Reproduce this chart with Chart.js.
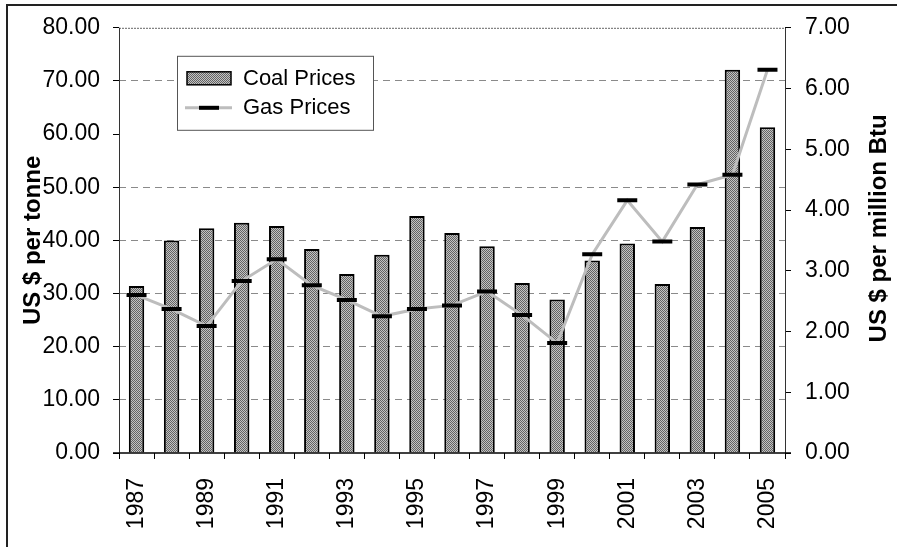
<!DOCTYPE html>
<html>
<head>
<meta charset="utf-8">
<script src="https://cdn.jsdelivr.net/npm/chart.js@4/dist/chart.umd.min.js"></script>
<style>
  html, body { margin: 0; padding: 0; background: #fff; }
  #c { display: block; }
</style>
</head>
<body>
<canvas id="c" width="897" height="547"></canvas>
<script>
const years = ['1987','1988','1989','1990','1991','1992','1993','1994','1995','1996','1997','1998','1999','2000','2001','2002','2003','2004','2005'];
const coalPrices = [31.4, 40.0, 42.3, 43.3, 42.7, 38.4, 33.7, 37.3, 44.6, 41.4, 38.9, 32.0, 28.9, 36.2, 39.4, 31.8, 42.5, 72.1, 61.3];
const gasPrices = [2.60, 2.37, 2.09, 2.83, 3.19, 2.76, 2.52, 2.25, 2.37, 2.43, 2.66, 2.27, 1.81, 3.27, 4.16, 3.48, 4.42, 4.58, 6.31];
const coalLabel = 'Coal Prices';
const gasLabel = 'Gas Prices';
const leftTitle = 'US $ per tonne';
const rightTitle = 'US $ per million Btu';

const FONT = "'Liberation Sans', Arial, sans-serif";

// stippled fill like the scanned original
function makePattern() {
  const p = document.createElement('canvas');
  p.width = 2; p.height = 2;
  const g = p.getContext('2d');
  g.fillStyle = '#c2c2c2'; g.fillRect(0, 0, 2, 2);
  g.fillStyle = '#636363'; g.fillRect(0, 0, 1, 1); g.fillRect(1, 1, 1, 1);
  return g.createPattern(p, 'repeat');
}
const ctx = document.getElementById('c').getContext('2d');
const barFill = makePattern();

const framePlugin = {
  id: 'frame',
  beforeDraw(chart) {
    const c = chart.ctx;
    c.save();
    c.strokeStyle = '#222';
    c.lineWidth = 2;
    c.beginPath();
    c.moveTo(7, 547); c.lineTo(7, 5); c.lineTo(897, 5);
    c.stroke();
    c.restore();
  },
  afterDatasetsDraw(chart) {
    const {left, right, top, bottom} = chart.chartArea;
    const c = chart.ctx;
    c.save();
    c.lineWidth = 1;
    c.strokeStyle = '#666';
    c.setLineDash([2, 1]);
    c.beginPath();
    c.moveTo(left, top + 0.5); c.lineTo(right, top + 0.5);
    c.stroke();
    c.setLineDash([]);
    c.strokeStyle = '#333';
    c.beginPath();
    c.moveTo(left + 0.5, top); c.lineTo(left + 0.5, bottom);
    c.moveTo(right + 0.5, top); c.lineTo(right + 0.5, bottom);
    c.stroke();
    c.strokeStyle = '#000';
    c.lineWidth = 1.5;
    c.beginPath();
    c.moveTo(left - 6, bottom); c.lineTo(right + 6, bottom);
    c.stroke();
    c.restore();
  },
  afterDraw(chart) {
    // right axis title, reading bottom-to-top like the original
    const s = chart.scales.y1;
    const c = chart.ctx;
    c.save();
    c.translate(879, (chart.chartArea.top + chart.chartArea.bottom) / 2 - 12);
    c.rotate(-Math.PI / 2);
    c.font = 'bold 24px ' + FONT;
    c.fillStyle = '#000';
    c.textAlign = 'center';
    c.textBaseline = 'middle';
    c.fillText(s.options.title.text, 0, 0);
    c.restore();
  }
};

const legendPlugin = {
  id: 'boxLegend',
  afterDraw(chart) {
    const {left, top} = chart.chartArea;
    const c = chart.ctx;
    const x = left + 58, y = top + 28, w = 196, h = 74;
    c.save();
    c.fillStyle = '#fff';
    c.fillRect(x, y, w, h);
    c.strokeStyle = '#555';
    c.lineWidth = 1;
    c.strokeRect(x + 0.5, y + 0.5, w, h);
    // coal swatch
    c.fillStyle = barFill;
    c.fillRect(x + 10, y + 16, 44, 13);
    c.strokeStyle = '#000';
    c.lineWidth = 1.5;
    c.strokeRect(x + 10, y + 16, 44, 13);
    // gas sample
    c.strokeStyle = '#bdbdbd';
    c.lineWidth = 3;
    c.beginPath(); c.moveTo(x + 8, y + 52); c.lineTo(x + 55, y + 52); c.stroke();
    c.strokeStyle = '#000';
    c.lineWidth = 4;
    c.beginPath(); c.moveTo(x + 22, y + 52); c.lineTo(x + 42, y + 52); c.stroke();
    // labels
    c.fillStyle = '#000';
    c.font = '22px ' + FONT;
    c.textBaseline = 'middle';
    c.textAlign = 'left';
    c.fillText(chart.data.datasets[0].label, x + 66, y + 23);
    c.fillText(chart.data.datasets[1].label, x + 66, y + 52);
    c.restore();
  }
};

new Chart(ctx, {
  data: {
    labels: years,
    datasets: [
      {
        type: 'bar',
        label: coalLabel,
        data: coalPrices,
        yAxisID: 'y',
        backgroundColor: barFill,
        borderColor: '#000',
        borderWidth: 2,
        borderSkipped: 'bottom',
        barPercentage: 0.44,
        categoryPercentage: 1.0,
        order: 2
      },
      {
        type: 'line',
        label: gasLabel,
        data: gasPrices,
        yAxisID: 'y1',
        borderColor: '#bdbdbd',
        borderWidth: 3,
        pointStyle: 'line',
        pointRadius: 10,
        pointBorderWidth: 4,
        pointBorderColor: '#000',
        pointBackgroundColor: '#000',
        tension: 0,
        order: 1
      }
    ]
  },
  options: {
    responsive: false,
    animation: false,
    devicePixelRatio: 1,
    layout: { padding: { top: 27, left: 0, right: 0, bottom: 0 } },
    plugins: {
      legend: { display: false },
      tooltip: { enabled: false }
    },
    scales: {
      x: {
        type: 'category',
        offset: true,
        afterFit(s) { s.height = 94; },
        grid: {
          offset: true,
          drawOnChartArea: false,
          drawTicks: true,
          tickLength: 6,
          tickColor: '#000',
          tickWidth: 1
        },
        border: { display: false },
        ticks: {
          autoSkip: false,
          minRotation: 90,
          maxRotation: 90,
          padding: 19,
          color: '#000',
          font: { family: FONT, size: 23 },
          callback(v, i) { return i % 2 === 0 ? this.getLabelForValue(v) : ''; }
        }
      },
      y: {
        type: 'linear',
        position: 'left',
        min: 0,
        max: 80,
        afterFit(s) { s.width = 119; },
        grid: {
          color: (c) => (c.tick && (c.tick.value === 60 || c.tick.value === 0 || c.tick.value === 80)) ? 'rgba(0,0,0,0)' : '#8a8a8a',
          lineWidth: 1,
          drawTicks: true,
          tickLength: 6,
          tickColor: '#000',
          tickBorderDash: [],
          tickWidth: 1
        },
        border: { display: false, dash: [7, 5] },
        ticks: {
          stepSize: 10,
          padding: 13,
          color: '#000',
          font: { family: FONT, size: 23 },
          callback: (v) => Number(v).toFixed(2)
        },
        title: {
          display: true,
          text: leftTitle,
          color: '#000',
          font: { family: FONT, size: 24, weight: 'bold' },
          padding: { top: 19, bottom: 0 }
        }
      },
      y1: {
        type: 'linear',
        position: 'right',
        min: 0,
        max: 7,
        afterFit(s) { s.width = 112; },
        grid: {
          drawOnChartArea: false,
          drawTicks: true,
          tickLength: 6,
          tickColor: '#000',
          tickWidth: 1
        },
        border: { display: false },
        ticks: {
          stepSize: 1,
          padding: 14,
          color: '#000',
          font: { family: FONT, size: 23 },
          callback: (v) => Number(v).toFixed(2)
        },
        title: {
          display: false,
          text: rightTitle,
          color: '#000',
          font: { family: FONT, size: 24, weight: 'bold' }
        }
      }
    }
  },
  plugins: [framePlugin, legendPlugin]
});
</script>
</body>
</html>
